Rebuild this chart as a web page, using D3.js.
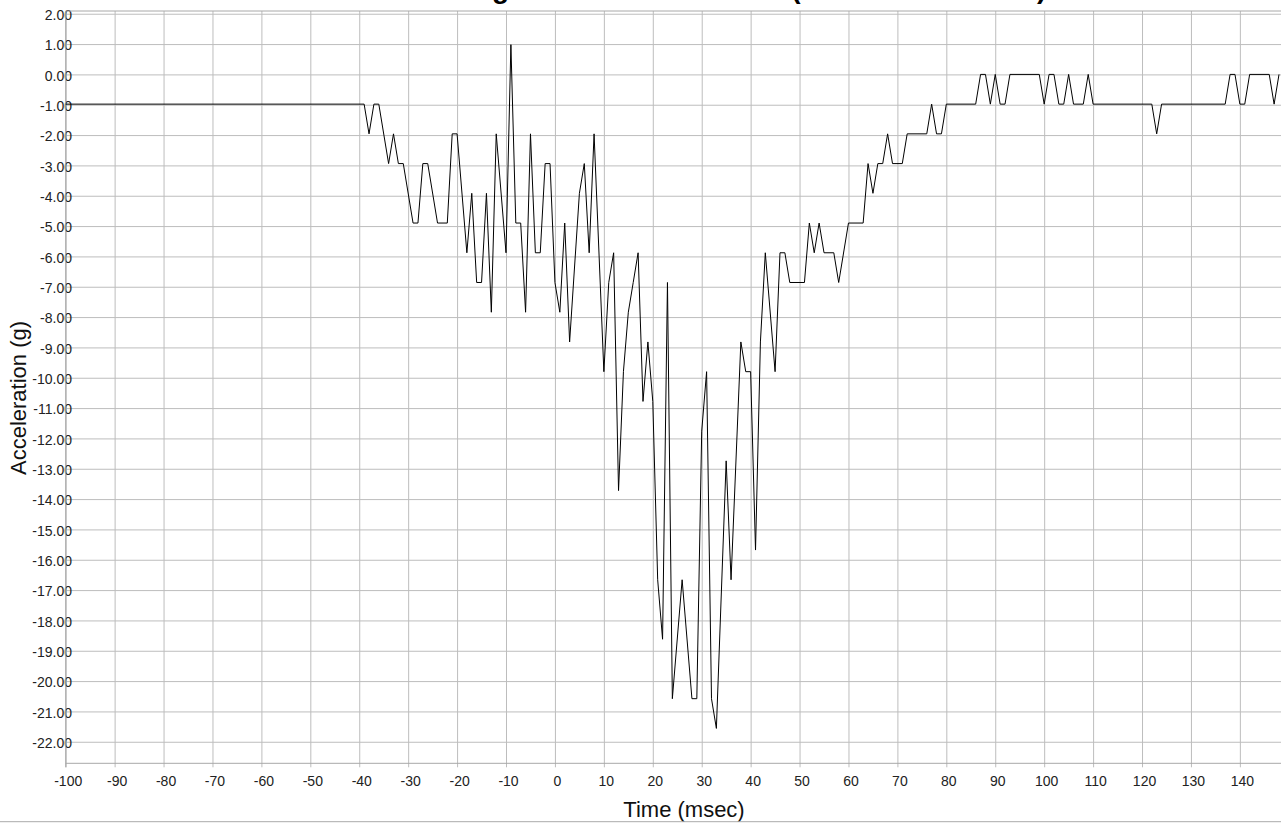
<!DOCTYPE html>
<html>
<head>
<meta charset="utf-8">
<script src="https://cdn.jsdelivr.net/npm/d3@7"></script>
<style>
  html, body { margin: 0; padding: 0; background: #fff; overflow: hidden; }
  svg { display: block; font-family: "Liberation Sans", Arial, sans-serif; }
</style>
</head>
<body>
<svg id="chart" width="1281" height="828"></svg>
<script>
// titles
// NOTE: the source picture cuts its title off at the top edge; only the tails of a "g"
// and of two brackets are visible. The wording below is a placeholder guess, not read
// from the picture; it is sized/placed so only matching fragments show.
const chartTitle = "Driver Head Longitudinal Acceleration (Filtered CFC 1000)";
const xTitle = "Time (msec)";
const yTitle = "Acceleration (g)";

const timeMs = [
  -100, -39, -38, -37, -36, -34, -33, -32, -31, -29, -28, -27, -26, -24, -22, -21, -20,
  -18, -17, -16, -15, -14, -13, -12, -10, -9, -8, -7, -6, -5, -4, -3, -2, -1,
  0, 1, 2, 3, 5, 6, 7, 8, 10, 11, 12, 13, 14, 15, 16, 17, 18, 19, 20,
  21, 22, 23, 24, 26, 28, 29, 30, 31, 32, 33, 35, 36, 38, 39, 40,
  41, 42, 43, 45, 46, 47, 48, 51, 52, 53, 54, 55, 57, 58, 60,
  63, 64, 65, 66, 67, 68, 69, 71, 72, 76, 77, 78, 79, 80,
  86, 87, 88, 89, 90, 91, 92, 93, 99, 100, 101, 102, 103, 104, 105, 106, 108, 109, 110,
  122, 123, 124, 137, 138, 139, 140, 141, 142, 146, 147, 148
];
const accelG = [
  -0.98, -0.98, -1.96, -0.98, -0.98, -2.94, -1.96, -2.94, -2.94, -4.9, -4.9, -2.94, -2.94, -4.9, -4.9, -1.96, -1.96,
  -5.88, -3.92, -6.86, -6.86, -3.92, -7.84, -1.96, -5.88, 0.98, -4.9, -4.9, -7.84, -1.96, -5.88, -5.88, -2.94, -2.94,
  -6.86, -7.84, -4.9, -8.82, -3.92, -2.94, -5.88, -1.96, -9.8, -6.86, -5.88, -13.72, -9.8, -7.84, -6.86, -5.88, -10.78, -8.82, -10.78,
  -16.66, -18.62, -6.86, -20.58, -16.66, -20.58, -20.58, -11.76, -9.8, -20.58, -21.56, -12.74, -16.66, -8.82, -9.8, -9.8,
  -15.68, -8.82, -5.88, -9.8, -5.88, -5.88, -6.86, -6.86, -4.9, -5.88, -4.9, -5.88, -5.88, -6.86, -4.9,
  -4.9, -2.94, -3.92, -2.94, -2.94, -1.96, -2.94, -2.94, -1.96, -1.96, -0.98, -1.96, -1.96, -0.98,
  -0.98, 0, 0, -0.98, 0, -0.98, -0.98, 0, 0, -0.98, 0, 0, -0.98, -0.98, 0, -0.98, -0.98, 0, -0.98,
  -0.98, -1.96, -0.98, -0.98, 0, 0, -0.98, -0.98, 0, 0, -0.98, 0
];

// axis ticks
const xTickValues = [-100, -90, -80, -70, -60, -50, -40, -30, -20, -10, 0, 10, 20,
  30, 40, 50, 60, 70, 80, 90, 100, 110, 120, 130, 140];
const yTickValues = [2, 1, 0, -1, -2, -3, -4, -5, -6, -7, -8, -9, -10, -11, -12,
  -13, -14, -15, -16, -17, -18, -19, -20, -21, -22];

const svg = d3.select("#chart");

const plot = { left: 65.7, right: 1302, top: 11, bottom: 763.3 };
const gridColor = "#bdbdbd";
const frameColor = "#a8a8a8";

const x = d3.scaleLinear().domain([-100, 152.7]).range([plot.left, plot.right]);
const y = d3.scaleLinear().domain([2.09, -22.71]).range([plot.top, plot.bottom]);

// x grid + labels (grid lines poke 4px below the frame like ticks)
const xAxis = d3.axisBottom(x)
  .tickValues(xTickValues)
  .tickFormat(d => String(d))
  .tickSizeInner(-(plot.bottom + 4 - plot.top))
  .tickSizeOuter(0)
  .tickPadding(9);

const gx = svg.append("g")
  .attr("transform", `translate(0,${plot.bottom + 4})`)
  .call(xAxis);
gx.select(".domain").remove();
gx.selectAll(".tick line").attr("stroke", gridColor);
gx.selectAll(".tick text")
  .attr("dx", 2)
  .attr("fill", "#222")
  .style("font-size", "14px")
  .style("font-family", "'Liberation Sans', Arial, sans-serif");

// y grid + labels
const yAxis = d3.axisLeft(y)
  .tickValues(yTickValues)
  .tickFormat(d => d.toFixed(2))
  .tickSizeInner(-(plot.right - plot.left))
  .tickSizeOuter(0)
  .tickPadding(-6.3);

const gy = svg.append("g")
  .attr("transform", `translate(${plot.left},0)`)
  .call(yAxis);
gy.select(".domain").remove();
gy.selectAll(".tick line").attr("stroke", gridColor);
gy.selectAll(".tick text")
  .attr("dy", "0.4em")
  .attr("fill", "#222")
  .style("font-size", "14px")
  .style("font-family", "'Liberation Sans', Arial, sans-serif");

// frame
svg.append("line")
  .attr("x1", plot.left).attr("x2", plot.right)
  .attr("y1", plot.top).attr("y2", plot.top)
  .attr("stroke", frameColor);
svg.append("line")
  .attr("x1", plot.left).attr("x2", plot.right)
  .attr("y1", plot.bottom).attr("y2", plot.bottom)
  .attr("stroke", frameColor);
svg.append("line")
  .attr("x1", plot.left).attr("x2", plot.left)
  .attr("y1", plot.top).attr("y2", plot.bottom + 4)
  .attr("stroke", frameColor);

// the trace
const points = timeMs.map((t, i) => [t, accelG[i]]);
const line = d3.line()
  .x(d => x(d[0]))
  .y(d => y(d[1]));

svg.append("path")
  .datum(points)
  .attr("d", line)
  .attr("fill", "none")
  .attr("stroke", "#000")
  .attr("stroke-width", 1);

// titles (chart title sits above the page edge, only descenders show, as in the source)
svg.append("text")
  .attr("x", 661)
  .attr("y", -2.5)
  .attr("text-anchor", "middle")
  .style("font-size", "28px")
  .style("font-weight", "bold")
  .text(chartTitle);

svg.append("text")
  .attr("x", 684)
  .attr("y", 817)
  .attr("text-anchor", "middle")
  .attr("fill", "#111")
  .style("font-size", "22px")
  .text(xTitle);

svg.append("text")
  .attr("transform", "translate(26,398) rotate(-90)")
  .attr("text-anchor", "middle")
  .attr("fill", "#111")
  .style("font-size", "22px")
  .text(yTitle);

// bottom rule across the page
svg.append("line")
  .attr("x1", 0).attr("x2", 1281)
  .attr("y1", 821.7).attr("y2", 821.7)
  .attr("stroke", "#aaa");
</script>
</body>
</html>
